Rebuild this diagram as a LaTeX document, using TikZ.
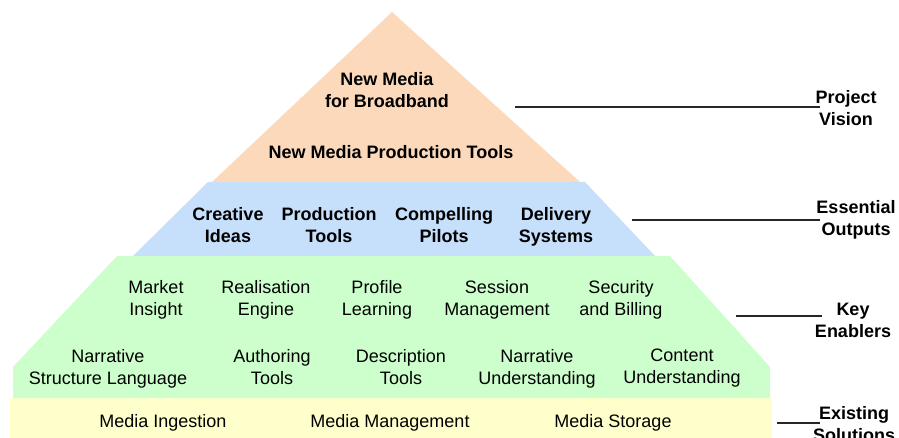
\documentclass[tikz,border=0pt]{standalone}
\usepackage{fontspec}
\setmainfont{Liberation Sans}
\definecolor{peach}{RGB}{252,217,186}
\definecolor{skyb}{RGB}{198,223,250}
\definecolor{mint}{RGB}{204,255,204}
\definecolor{cream}{RGB}{255,255,204}
\tikzset{
  boldtxt/.style={align=center,font=\fontsize{18}{22}\selectfont\bfseries,inner sep=0pt,
    execute at begin node=\strut, execute at end node=\strut},
  plaintxt/.style={align=center,font=\fontsize{18}{22}\selectfont,inner sep=0pt,
    execute at begin node=\strut, execute at end node=\strut},
  lbl/.style={align=center,font=\fontsize{18}{22}\selectfont\bfseries,inner sep=0pt,
    execute at begin node=\strut, execute at end node=\strut},
  leader/.style={draw=black!85,line width=1.6pt}
}
\begin{document}
\begin{tikzpicture}[x=1pt,y=-1pt]
\useasboundingbox (0,0) rectangle (899,438);
% bands
\fill[cream] (10,398) -- (772,398) -- (772,438) -- (10,438) -- cycle;
\fill[mint] (117,256) -- (670,256) -- (770,367) -- (770,398) -- (13,398) -- (13,367) -- cycle;
\fill[skyb] (208,182) -- (585,182) -- (655,256) -- (133,256) -- cycle;
\fill[peach] (392,12) -- (580,182) -- (212,182) -- cycle;
% top
\node[boldtxt] (nmb) at (387,93) {New Media\\for Broadband};
\node[boldtxt] (nmpt) at (391,154) {New Media Production Tools};
% blue
\node[boldtxt] (ci) at (228,228) {Creative\\Ideas};
\node[boldtxt] (pt) at (329,228) {Production\\Tools};
\node[boldtxt] (cp) at (444,228) {Compelling\\Pilots};
\node[boldtxt] (ds) at (556,228) {Delivery\\Systems};
% green row 1
\node[plaintxt] (mi) at (156,301) {Market\\Insight};
\node[plaintxt] (re) at (266,301) {Realisation\\Engine};
\node[plaintxt] (pl) at (377,301) {Profile\\Learning};
\node[plaintxt] (sm) at (497,301) {Session\\Management};
\node[plaintxt] (sb) at (621,301) {Security\\and Billing};
% green row 2
\node[plaintxt] (nsl) at (108,370) {Narrative\\Structure Language};
\node[plaintxt] (at) at (272,370) {Authoring\\Tools};
\node[plaintxt] (dt) at (401,370) {Description\\Tools};
\node[plaintxt] (nu) at (537,370) {Narrative\\Understanding};
\node[plaintxt] (cu) at (682,370) {Content\\Understanding};
% yellow
\node[plaintxt] (mig) at (163,423) {Media Ingestion};
\node[plaintxt] (mm) at (390,423) {Media Management};
\node[plaintxt] (ms) at (613,423) {Media Storage};
% labels
\node[lbl] (pv) at (846,111) {Project\\Vision};
\node[lbl] (eo) at (856,221) {Essential\\Outputs};
\node[lbl] (ke) at (853,324) {Key\\Enablers};
\node[lbl] (es) at (854,427) {Existing\\Solutions};
% leader lines
\coordinate (pva) at (515,107); \coordinate (pvb) at (820,107);
\coordinate (eoa) at (632,220); \coordinate (eob) at (820,220);
\coordinate (kea) at (736,316); \coordinate (keb) at (822,316);
\coordinate (esa) at (777,423); \coordinate (esb) at (820,423);
\draw[leader] (pva) -- (pvb);
\draw[leader] (eoa) -- (eob);
\draw[leader] (kea) -- (keb);
\draw[leader] (esa) -- (esb);
\end{tikzpicture}
\end{document}
